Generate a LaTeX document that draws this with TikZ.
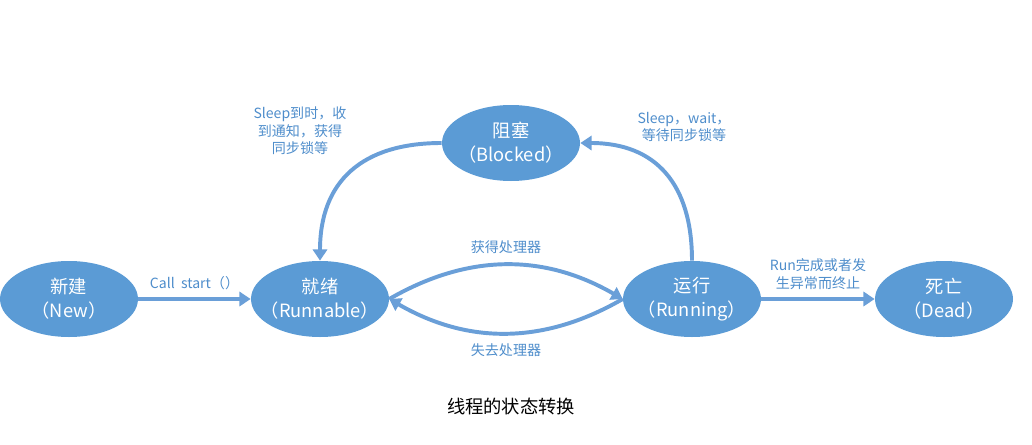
\documentclass[tikz,border=0pt]{standalone}
\usepackage{fontspec}
\setmainfont{Noto Sans CJK SC}
\usepackage{xcolor}
\usepackage{tikz}
\usetikzlibrary{shapes.geometric,arrows.meta}

\definecolor{stblue}{HTML}{5B9BD5}
\definecolor{lnblue}{HTML}{6A9FD8}
\definecolor{txblue}{HTML}{4E8DCB}

\begin{document}
\begin{tikzpicture}[
  state/.style={ellipse, fill=stblue, text=white, minimum width=3.45cm,
    minimum height=1.9cm, inner xsep=-2cm, inner ysep=-1cm, align=center,
    font=\fontsize{13}{17}\selectfont},
  trans/.style={draw=lnblue, line width=2.8pt,
    -{Triangle[length=8pt,width=10pt]}},
  lbl/.style={text=txblue, align=center, font=\fontsize{10}{12.5}\selectfont}
]
  \useasboundingbox (0,0) rectangle (25.8,11.1);

  % 五个状态
  \node[state] (new)  at (1.725,3.625)  {新建\\（New）};
  \node[state] (rdy)  at (8.0,3.625)    {就绪\\（Runnable）};
  \node[state] (blk)  at (12.775,7.525) {阻塞\\（Blocked）};
  \node[state] (run)  at (17.3,3.625)   {运行\\（Running）};
  \node[state] (dead) at (23.6,3.625)   {死亡\\（Dead）};

  % 状态之间的转换
  \draw[trans] (new) -- node[lbl, above=2pt] {Call\ \ start（）} (rdy);
  \draw[trans] (rdy.east) to[out=30, in=150]
    node[lbl, above=3pt] {获得处理器} (run.west);
  \draw[trans] (run.west) to[out=210, in=-30]
    node[lbl, below=3pt] {失去处理器} (rdy.east);
  \draw[trans] (run.north) to[out=90, in=0, looseness=1.2] (blk.east);
  \draw[trans] (blk.west) to[out=180, in=90, looseness=1.2] (rdy.north);
  \draw[trans] (run) -- node[lbl, above=2pt] {Run完成或者发\\生异常而终止} (dead);

  % 阻塞相关的说明
  \node[lbl] (lsleep) at (7.5,7.825) {Sleep到时，收\\到通知，获得\\同步锁等};
  \node[lbl] (lwait)  at (17.1,7.925) {Sleep，wait，\\等待同步锁等};

  % 图题
  \node[font=\fontsize{13}{15}\selectfont] (cap) at (12.775,0.925) {线程的状态转换};

\end{tikzpicture}
\end{document}
